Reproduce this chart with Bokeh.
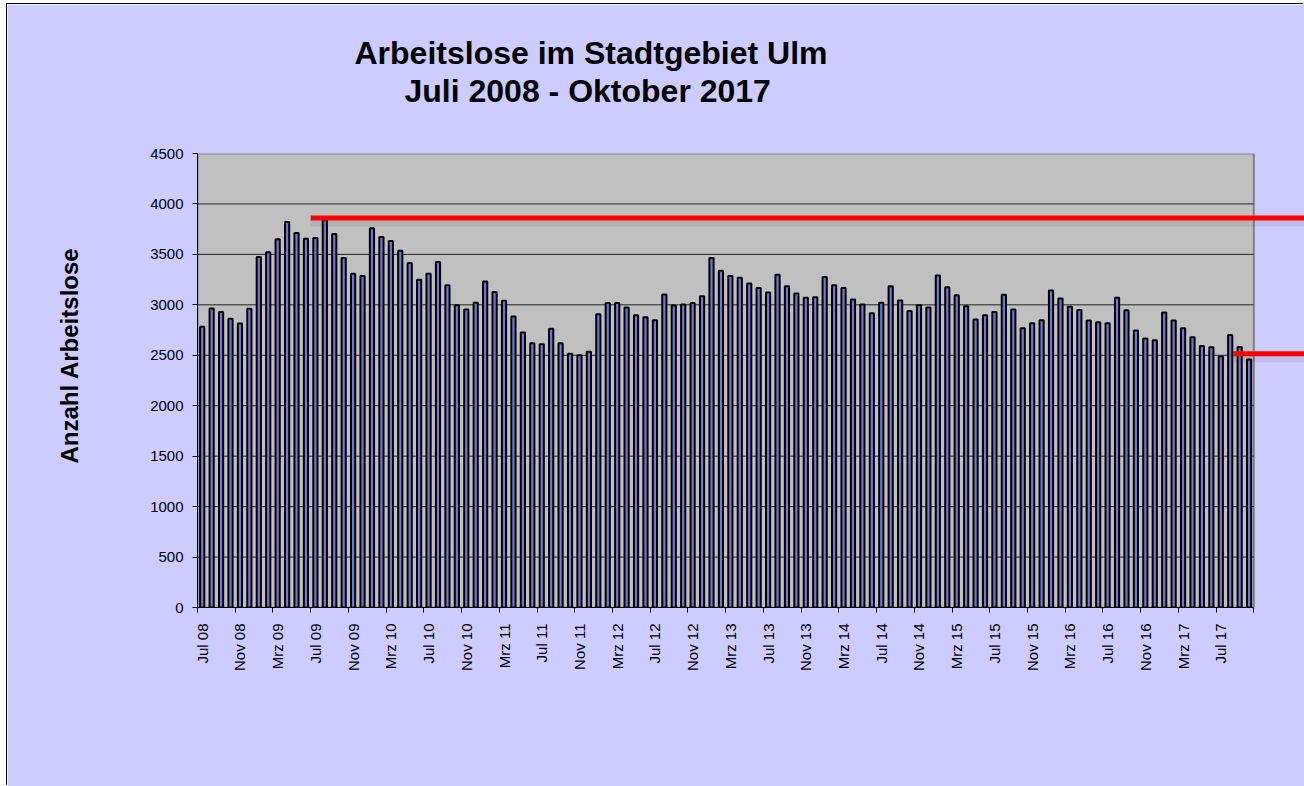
import math
from bokeh.plotting import figure
from bokeh.models import Range1d, FixedTicker, Title
from bokeh.embed import file_html
from bokeh.resources import INLINE

# ---------------- data ----------------
arbeitslose = [
    2782, 2964, 2930, 2861, 2815, 2960,                                      # Jul-Dez 2008
    3473, 3520, 3649, 3821, 3712, 3656, 3662, 3845, 3702, 3464, 3308, 3285,  # 2009
    3758, 3672, 3632, 3536, 3414, 3248, 3308, 3424, 3195, 2997, 2954, 3020,  # 2010
    3232, 3126, 3040, 2884, 2725, 2620, 2610, 2762, 2620, 2515, 2500, 2535,  # 2011
    2907, 3017, 3017, 2974, 2897, 2877, 2848, 3103, 2993, 3003, 3017, 3086,  # 2012
    3464, 3338, 3285, 3268, 3212, 3166, 3123, 3298, 3185, 3113, 3070, 3076,  # 2013
    3275, 3195, 3166, 3053, 3003, 2917, 3020, 3185, 3043, 2940, 2997, 2974,  # 2014
    3291, 3175, 3096, 2987, 2854, 2897, 2930, 3099, 2954, 2768, 2818, 2848,  # 2015
    3142, 3063, 2980, 2950, 2844, 2828, 2818, 3070, 2947, 2745, 2666, 2649,  # 2016
    2924, 2844, 2768, 2679, 2593, 2579, 2487, 2702, 2583, 2457,              # Jan-Okt 2017
]
month_names = ["Jan", "Feb", "Mrz", "Apr", "Mai", "Jun", "Jul", "Aug", "Sep", "Okt", "Nov", "Dez"]
start_year, start_month = 2008, 7
y_ticks = [0, 500, 1000, 1500, 2000, 2500, 3000, 3500, 4000, 4500]
# red reference lines: level and first month (index) where they start
ref_levels = [3860, 2515]
ref_start_index = [12, 109.8]

title_lines = ["Arbeitslose im Stadtgebiet Ulm", "Juli 2008 - Oktober 2017"]
y_title = "Anzahl Arbeitslose"

# ---------------- derived ----------------
n = len(arbeitslose)
categories = []
yy, mm = start_year, start_month - 1
for _ in range(n):
    categories.append(f"{month_names[mm]} {yy % 100:02d}")
    mm += 1
    if mm == 12:
        mm, yy = 0, yy + 1
idx = list(range(n))

FONT = "Liberation Sans"
BG = "#CCCCFF"
OX, OY = 7, 4                 # page offset of the chart area
W, H = 1304 - OX, 786 - OY
ML = 197 - OX
MT = 153 - OY
MB = H - (607 - OY)
frame_w = W - ML
plot_w = 1056.3               # width of the grey plot area in px
px_per_cat = plot_w / n
x_start = -0.5
x_end = x_start + frame_w / px_per_cat
y_max = y_ticks[-1]
frame_h = H - MT - MB
units_per_px = y_max / frame_h

p = figure(width=W, height=H,
           x_range=Range1d(x_start, x_end), y_range=Range1d(0, y_max),
           output_backend="svg", toolbar_location=None,
           min_border_left=ML, min_border_top=MT, min_border_bottom=MB, min_border_right=0,
           background_fill_color=BG, background_fill_alpha=1.0,
           border_fill_color=BG, border_fill_alpha=1.0,
           outline_line_color=None)
p.styles = {"margin-left": f"{OX}px", "margin-top": f"{OY}px",
            "box-shadow": "-1px -1px 0 0 #000"}
p.xgrid.visible = False
p.ygrid.visible = False

# grey plot area
p.quad(left=[x_start], right=[n - 0.5], bottom=[0], top=[y_max],
       fill_color="#C0C0C0", line_color="#808080", line_width=2)
# grid lines
gl = [t for t in y_ticks if 0 < t < y_max]
p.segment(x0=[x_start] * len(gl), x1=[n - 0.5] * len(gl), y0=gl, y1=gl,
          line_color="#222222", line_width=1)

# bars
p.vbar(x=idx, top=arbeitslose, width=4.2 / px_per_cat, bottom=0,
       fill_color="#7474DC", line_color="black", line_width=2)

# chart background right of the plot area (frame extends to the edge)
p.quad(left=[n - 0.5 + 1.5 / px_per_cat], right=[x_end + 1], bottom=[-10], top=[y_max + 10],
       fill_color=BG, fill_alpha=1.0, line_color=None, level="overlay")

# red reference lines with a soft shadow
x0s = [s - 0.5 for s in ref_start_index]
off = 5 * units_per_px
p.segment(x0=x0s, x1=[x_end] * len(ref_levels),
          y0=[v - off for v in ref_levels], y1=[v - off for v in ref_levels],
          line_color="black", line_alpha=0.07, line_width=7, level="overlay")
p.segment(x0=x0s, x1=[x_end] * len(ref_levels), y0=ref_levels, y1=ref_levels,
          line_color="#FF0000", line_width=5, level="overlay")

# axes
xa = p.xaxis[0]
xa.ticker = FixedTicker(ticks=idx[::4], minor_ticks=[i - 0.5 for i in range(0, n + 1, 4)])
xa.major_label_overrides = {i: categories[i] for i in idx[::4]}
xa.bounds = (x_start, n - 0.5)
xa.major_tick_line_color = None
xa.major_tick_out = 0
xa.major_tick_in = 0
xa.minor_tick_line_color = "black"
xa.minor_tick_out = 5
xa.minor_tick_in = 0
xa.major_label_orientation = math.pi / 2
xa.major_label_standoff = 11
xa.major_label_text_font = FONT
xa.major_label_text_font_size = "15px"
xa.major_label_text_color = "black"
xa.axis_line_color = "black"

ya = p.yaxis[0]
ya.ticker = FixedTicker(ticks=y_ticks)
ya.major_tick_out = 5
ya.major_tick_in = 0
ya.minor_tick_line_color = None
ya.major_label_standoff = 9
ya.major_label_text_font = FONT
ya.major_label_text_font_size = "15px"
ya.major_label_text_color = "black"
ya.axis_line_color = "black"

# titles (spacer first, nearest the plot area)
p.add_layout(Title(text=" ", text_font_size="1px", standoff=42), "above")
p.add_layout(Title(text=title_lines[1], align="left", offset=207, standoff=0,
                   text_font=FONT, text_font_size="32px", text_font_style="bold",
                   text_color="black"), "above")
p.add_layout(Title(text=title_lines[0], align="left", offset=157, standoff=0,
                   text_font=FONT, text_font_size="32px", text_font_style="bold",
                   text_color="black"), "above")
p.add_layout(Title(text=y_title + "\n ", align="left", offset=607 - 463, standoff=71,
                   vertical_align="top",
                   text_font=FONT, text_font_size="24px", text_font_style="bold",
                   text_color="black"), "left")

open("out.html", "w").write(file_html(p, INLINE))
